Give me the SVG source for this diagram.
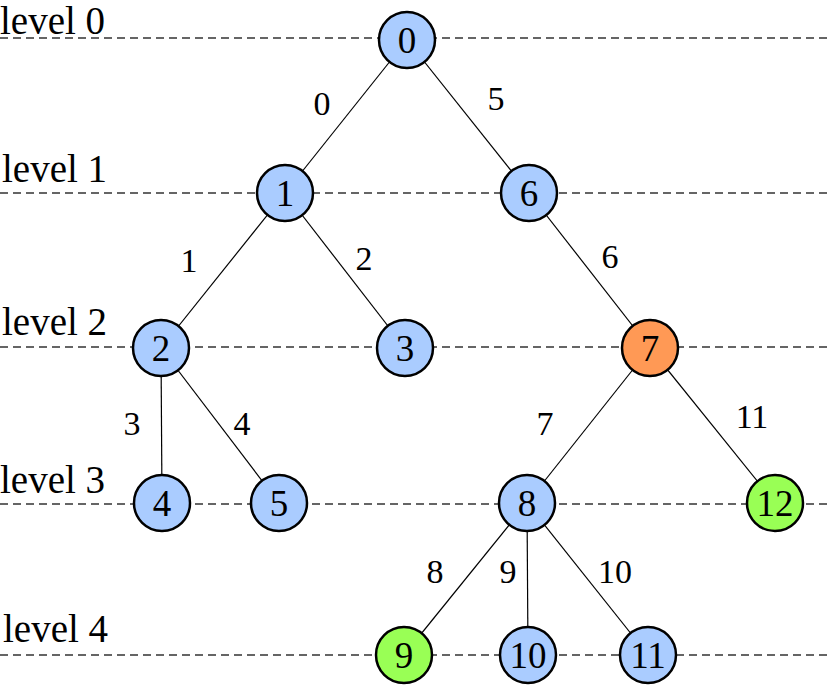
<svg xmlns="http://www.w3.org/2000/svg" width="830" height="687" viewBox="0 0 830 687">
<style>
text{font-family:'Liberation Serif','Times New Roman',serif;fill:#000}
.lvl{font-size:39px}
.dash{stroke:#333;stroke-width:1.5;stroke-dasharray:8,5;fill:none}
.edge{stroke:#000;stroke-width:1.2;fill:none}
.el{font-size:34px;text-anchor:middle}
.node circle{stroke:#000;stroke-width:2.5}
.node text{font-size:37px;text-anchor:middle}
.blue{fill:#aaccff}.orange{fill:#ff9955}.green{fill:#99ff55}
</style>
<rect width="830" height="687" fill="#fff"/>
<g id="levels">
<line class="dash" x1="0" y1="38" x2="830" y2="38"/>
<line class="dash" x1="0" y1="193" x2="830" y2="193"/>
<line class="dash" x1="0" y1="347" x2="830" y2="347"/>
<line class="dash" x1="0" y1="504" x2="830" y2="504"/>
<line class="dash" x1="0" y1="655" x2="830" y2="655"/>
<text class="lvl" x="0" y="34">level 0</text>
<text class="lvl" x="2" y="182">level 1</text>
<text class="lvl" x="2" y="335">level 2</text>
<text class="lvl" x="0" y="493">level 3</text>
<text class="lvl" x="3" y="642">level 4</text>
</g>
<g id="connectors">
<line class="edge" x1="407" y1="40" x2="285" y2="193"/>
<line class="edge" x1="407" y1="40" x2="529" y2="193"/>
<line class="edge" x1="285" y1="193" x2="161" y2="348"/>
<line class="edge" x1="285" y1="193" x2="405" y2="348"/>
<line class="edge" x1="529" y1="193" x2="650" y2="348"/>
<line class="edge" x1="161" y1="348" x2="162" y2="503"/>
<line class="edge" x1="161" y1="348" x2="279" y2="503"/>
<line class="edge" x1="650" y1="348" x2="527" y2="503"/>
<line class="edge" x1="650" y1="348" x2="775" y2="503"/>
<line class="edge" x1="527" y1="503" x2="404" y2="655"/>
<line class="edge" x1="527" y1="503" x2="528" y2="655"/>
<line class="edge" x1="527" y1="503" x2="648" y2="655"/>
<text class="el" x="322" y="115">0</text>
<text class="el" x="496" y="110">5</text>
<text class="el" x="189" y="272">1</text>
<text class="el" x="364" y="270">2</text>
<text class="el" x="610" y="268">6</text>
<text class="el" x="132" y="435">3</text>
<text class="el" x="242" y="435">4</text>
<text class="el" x="545" y="435">7</text>
<text class="el" x="752" y="428">11</text>
<text class="el" x="435" y="583">8</text>
<text class="el" x="508" y="583">9</text>
<text class="el" x="615" y="583">10</text>
</g>
<g id="n0" class="node"><circle class="blue" cx="407" cy="40" r="28"/><text x="407" y="53">0</text></g>
<g id="n1" class="node"><circle class="blue" cx="285" cy="193" r="28"/><text x="285" y="206">1</text></g>
<g id="n6" class="node"><circle class="blue" cx="529" cy="193" r="28"/><text x="529" y="206">6</text></g>
<g id="n2" class="node"><circle class="blue" cx="161" cy="348" r="28"/><text x="161" y="361">2</text></g>
<g id="n3" class="node"><circle class="blue" cx="405" cy="348" r="28"/><text x="405" y="361">3</text></g>
<g id="n7" class="node"><circle class="orange" cx="650" cy="348" r="28"/><text x="650" y="361">7</text></g>
<g id="n4" class="node"><circle class="blue" cx="162" cy="503" r="28"/><text x="162" y="516">4</text></g>
<g id="n5" class="node"><circle class="blue" cx="279" cy="503" r="28"/><text x="279" y="516">5</text></g>
<g id="n8" class="node"><circle class="blue" cx="527" cy="503" r="28"/><text x="527" y="516">8</text></g>
<g id="n12" class="node"><circle class="green" cx="775" cy="503" r="28"/><text x="775" y="516">12</text></g>
<g id="n9" class="node"><circle class="green" cx="404" cy="655" r="28"/><text x="404" y="668">9</text></g>
<g id="n10" class="node"><circle class="blue" cx="528" cy="655" r="28"/><text x="528" y="668">10</text></g>
<g id="n11" class="node"><circle class="blue" cx="648" cy="655" r="28"/><text x="648" y="668">11</text></g>
</svg>
